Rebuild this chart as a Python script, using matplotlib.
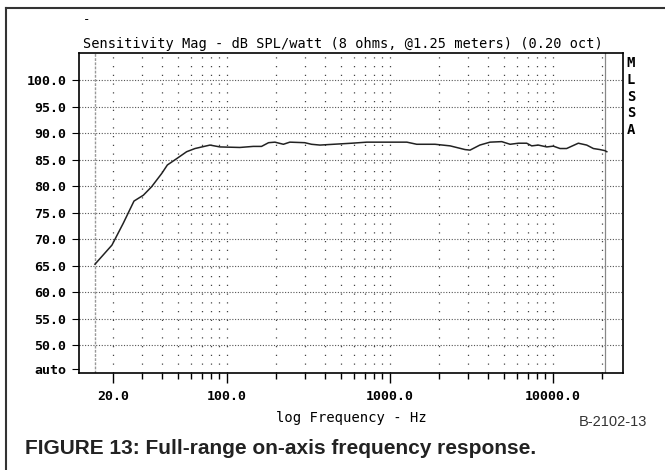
import numpy as np
import matplotlib
matplotlib.use("Agg")
import matplotlib.pyplot as plt
from matplotlib.lines import Line2D

# =========================================
# DADOS
# =========================================

freq = [15.5, 19.7, 23.1, 26.9, 30.7, 34.5, 39.8, 43.1, 49.2, 56.6, 63.7,
        78.7, 90.6, 120, 145, 163, 180, 197, 222, 243, 300, 330, 372, 450,
        583, 721, 1270, 1460, 1890, 2340, 2890, 3100, 3560, 4110, 4850,
        5460, 6140, 6900, 7410, 8130, 9160, 10050, 11050, 12130, 14310,
        16110, 17700, 19440, 20840, 21400]
spl = [65.3, 68.9, 73.0, 77.2, 78.3, 79.9, 82.4, 84.0, 85.2, 86.5, 87.1,
       87.75, 87.4, 87.3, 87.5, 87.5, 88.2, 88.3, 87.9, 88.3, 88.2, 87.9,
       87.75, 87.9, 88.1, 88.3, 88.3, 87.9, 87.9, 87.6, 86.9, 86.8, 87.75,
       88.3, 88.4, 87.9, 88.1, 88.1, 87.6, 87.75, 87.4, 87.55, 87.1, 87.1,
       88.1, 87.75, 87.1, 86.9, 86.7, 86.5]

y_ticks = [50, 55, 60, 65, 70, 75, 80, 85, 90, 95, 100]
y_labels = ["50.0", "55.0", "60.0", "65.0", "70.0", "75.0", "80.0",
            "85.0", "90.0", "95.0", "100.0"]
x_ticks = [20, 100, 1000, 10000]
x_labels = ["20.0", "100.0", "1000.0", "10000.0"]
x_minor = [30, 40, 50, 60, 70, 80, 90, 200, 300, 400, 500, 600, 700, 800,
           900, 2000, 3000, 4000, 5000, 6000, 7000, 8000, 9000, 20000]
f_start = 15.5
f_stop = 21000

MONO = "DejaVu Sans Mono"
SANS = ["Liberation Sans", "DejaVu Sans"]

# =========================================
# FIGURA
# =========================================

fig = plt.figure(figsize=(6.65, 4.7), dpi=100)
ax = fig.add_axes([79 / 665, 1 - 373 / 470, 544 / 665, 320 / 470])

ax.set_xscale("log")
ax.set_xlim(12.37, 26900)
ax.set_ylim(44.8, 105.1)

# grade horizontal
for y in y_ticks:
    ax.axhline(y, color="#555555", lw=0.8, ls=(0, (1, 1.5)), zorder=1)

# grade vertical
for x in x_ticks + x_minor:
    ax.axvline(x, color="#444444", lw=0.9, ls=(0, (1, 6)), zorder=1)

# limites de medição
ax.axvline(f_start, color="#999999", lw=1.0, ls=(0, (2, 1)), zorder=1)
ax.axvline(f_stop, color="#888888", lw=0.9, zorder=1)

ax.plot(freq, spl, color="#222222", lw=1.1, zorder=3)

# eixos
ax.set_yticks(y_ticks + [45.5])
ax.set_yticklabels(y_labels + ["auto"], fontfamily=MONO,
                   fontweight="bold", fontsize=9.5)
ax.set_xticks(x_ticks)
ax.set_xticklabels(x_labels, fontfamily=MONO, fontweight="bold",
                   fontsize=9.5)
ax.set_xticks(x_minor, minor=True)
ax.xaxis.set_minor_formatter(plt.NullFormatter())
ax.tick_params(axis="x", which="major", length=7, width=1.0, pad=5)
ax.tick_params(axis="x", which="minor", length=4, width=1.0)
ax.tick_params(axis="y", which="major", length=5, width=0.8, pad=4)
ax.tick_params(axis="y", which="minor", length=0)
ax.yaxis.set_minor_locator(plt.NullLocator())

for s in ax.spines.values():
    s.set_linewidth(1.2)

ax.set_xlabel("log Frequency - Hz", fontfamily=MONO, fontsize=10,
              labelpad=6)

# título
fig.text(83 / 665, 1 - 44 / 470,
         "Sensitivity Mag - dB SPL/watt (8 ohms, @1.25 meters) (0.20 oct)",
         fontfamily=MONO, fontsize=9.8, ha="left", va="center")
fig.text(87 / 665, 1 - 20 / 470, "-", fontfamily=MONO, fontsize=9,
         ha="center", va="center")

# MLSSA
for i, ch in enumerate("MLSSA"):
    fig.text(631 / 665, 1 - (63 + i * 16.8) / 470, ch, fontfamily=MONO,
             fontweight="bold", fontsize=10, ha="center", va="center")

# moldura da figura
fig.add_artist(Line2D([6 / 665, 1], [1 - 8 / 470, 1 - 8 / 470],
                      transform=fig.transFigure, color="#333333", lw=1.5))
fig.add_artist(Line2D([6 / 665, 6 / 665], [0, 1 - 8 / 470],
                      transform=fig.transFigure, color="#333333", lw=1.5))

fig.text(647 / 665, 1 - 422 / 470, "B-2102-13", family=SANS, fontsize=10.5,
         color="#333333", ha="right", va="center")
fig.text(25 / 665, 1 - 448 / 470,
         "FIGURE 13: Full-range on-axis frequency response.",
         family=SANS, fontsize=15, fontweight="bold", color="#222222",
         ha="left", va="center")

fig.savefig("out.png", dpi=100)
